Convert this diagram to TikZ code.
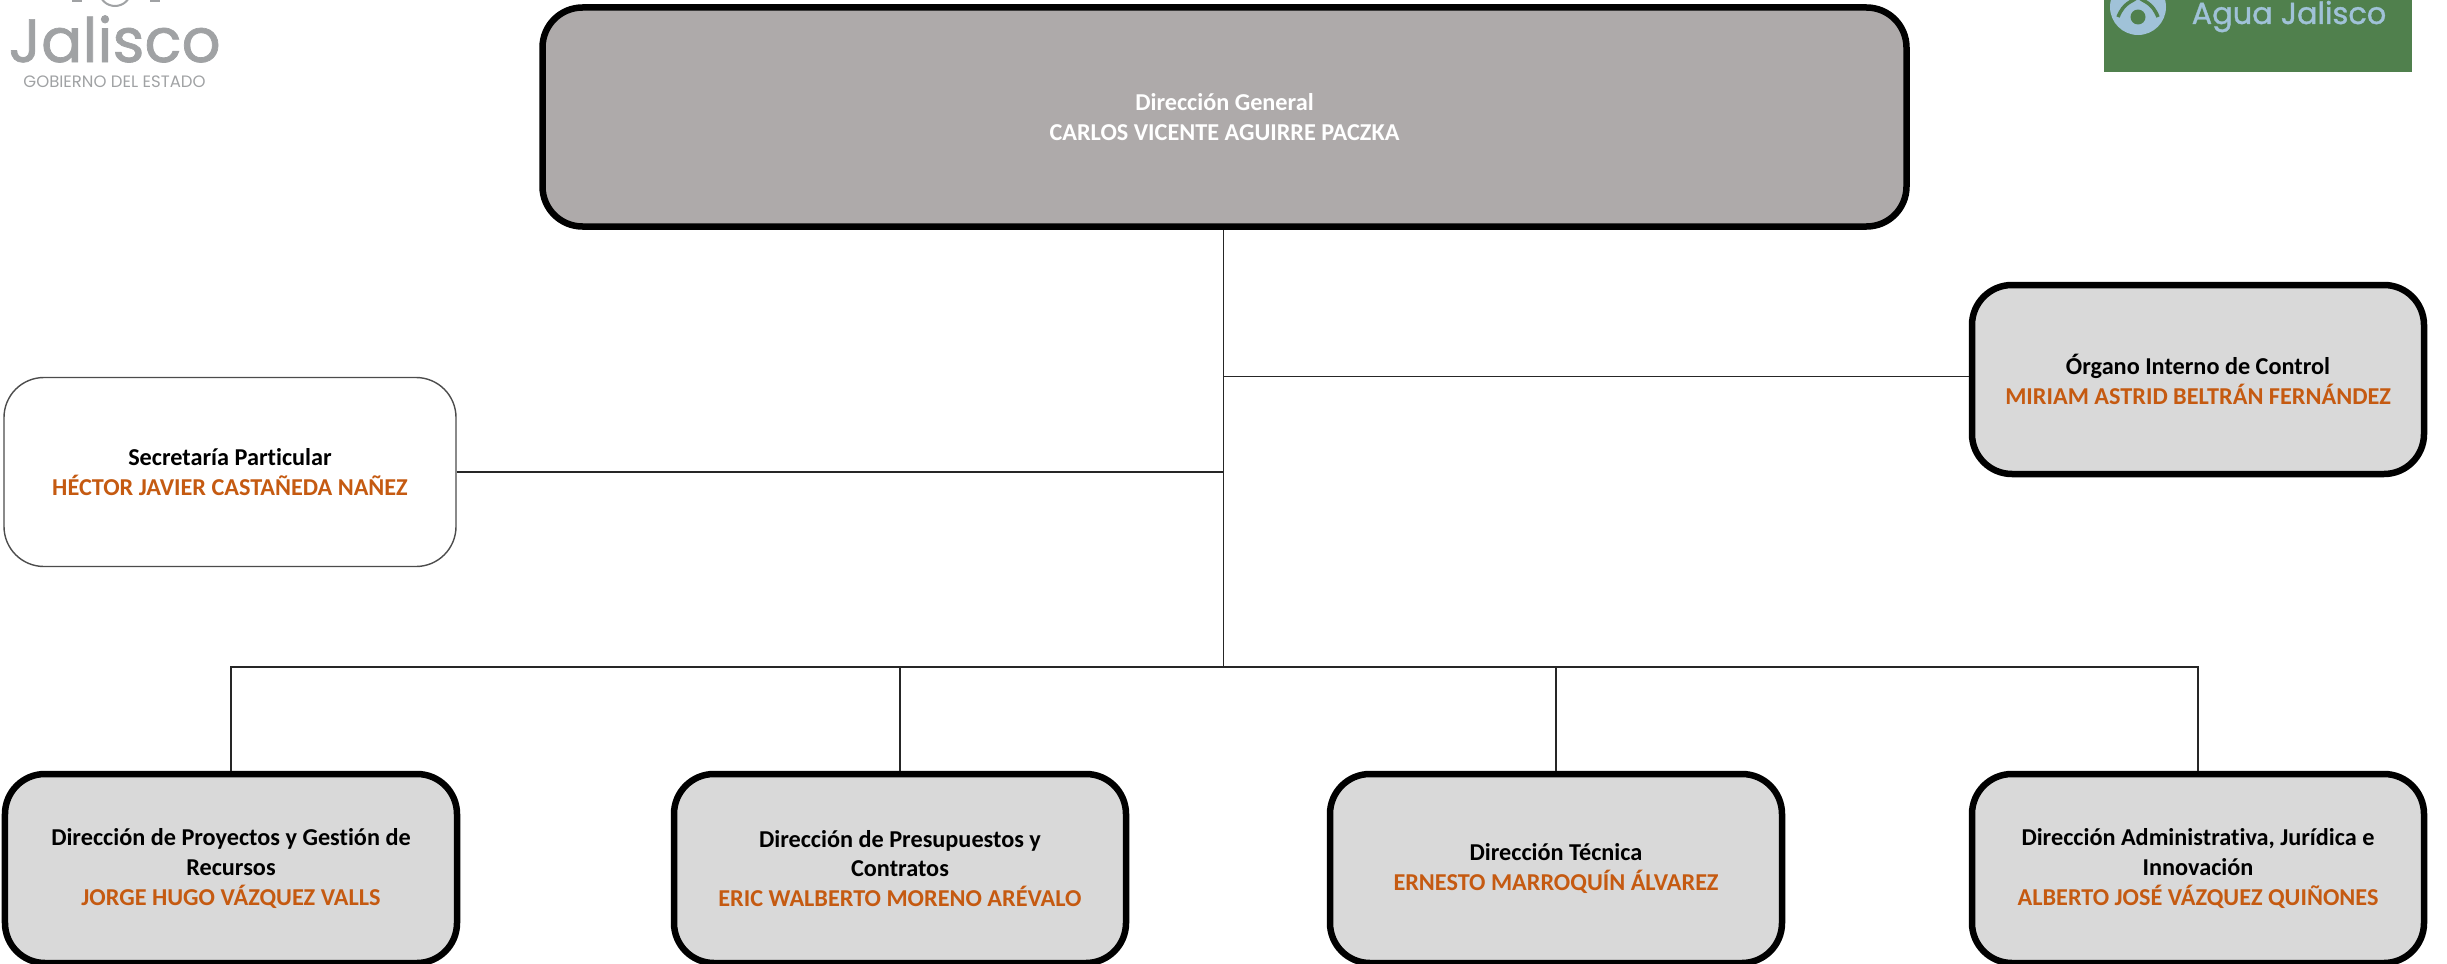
\documentclass[tikz,border=0pt]{standalone}
\usepackage{fontspec}
\setmainfont{Carlito}[Ligatures=CommonOff]
\newfontfamily\logofont[FakeBold=1.2]{Poppins}
\newfontfamily\logofino{Poppins}
\usetikzlibrary{positioning, calc}
\definecolor{nombre}{HTML}{C55A11}
\definecolor{cajagris}{HTML}{D9D9D9}
\definecolor{cajageneral}{HTML}{AEAAAA}
\definecolor{verdeagua}{HTML}{50804D}
\definecolor{azulagua}{HTML}{A0C2D8}
\definecolor{grislogo}{HTML}{A0A2A4}
\tikzset{
	puesto/.style={draw, rounded corners=0.4cm, line width=0.065cm, fill=cajagris, align=center, font=\fontsize{6.9pt}{8.4pt}\selectfont\bfseries, minimum width=4.52cm, minimum height=1.89cm, inner sep=0pt},
	enlace/.style={draw=black!85, line width=0.014cm},
}
\newcommand{\titular}[1]{\textcolor{nombre}{#1}}
\begin{document}
\begin{tikzpicture}
	\clip (0, 0) rectangle (24.47, -9.64);
	% logos
	\fill[verdeagua] (21.04, 0) rectangle (24.12, -0.72);
	\node[font=\logofont\fontsize{8.65pt}{10pt}\selectfont, text=azulagua, anchor=base west, inner sep=0pt] (agua) at (21.91, -0.24) {Agua Jalisco};
	\fill[azulagua] (21.38, -0.07) circle (0.28);
	\draw[verdeagua, line width=0.035cm] (21.18, -0.17) .. controls (21.24, -0.02) and (21.32, -0.02) .. (21.38, 0.03) .. controls (21.44, -0.02) and (21.52, -0.02) .. (21.58, -0.17);
	\fill[verdeagua] (21.38, -0.17) circle (0.075);
	\node[font=\logofont\fontsize{17.4pt}{20pt}\selectfont, text=grislogo, anchor=base west, inner sep=0pt] (jalisco) at (0.08, -0.62) {Jalisco};
	\node[font=\logofino\fontsize{4.7pt}{6pt}\selectfont, text=grislogo, anchor=center, inner sep=0pt] (gobierno) at (1.145, -0.82) {GOBIERNO DEL ESTADO};
	\draw[grislogo, line width=0.02cm] (1.15, 0.1) circle (0.16);
	\draw[grislogo, line width=0.02cm] (0.72, -0.01) -- (0.82, -0.01) (1.5, -0.01) -- (1.6, -0.01);
	% cajas
	\node[puesto, fill=cajageneral, minimum width=13.64cm, minimum height=2.19cm, text=white] (general) at (12.245, -1.17) {Dirección General\\CARLOS VICENTE AGUIRRE PACZKA};
	\node[puesto] (organo) at (21.98, -3.795) {Órgano Interno de Control\\\titular{MIRIAM ASTRID BELTRÁN FERNÁNDEZ}};
	\node[puesto, fill=white, line width=0.014cm, draw=black!70] (secretaria) at (2.30, -4.72) {Secretaría Particular\\\titular{HÉCTOR JAVIER CASTAÑEDA NAÑEZ}};
	\node[puesto] (proyectos) at (2.31, -8.685) {Dirección de Proyectos y Gestión de\\Recursos\\\titular{JORGE HUGO VÁZQUEZ VALLS}};
	\node[puesto] (presupuestos) at (9.00, -8.685) {Dirección de Presupuestos y\\Contratos\\\titular{ERIC WALBERTO MORENO ARÉVALO}};
	\node[puesto] (tecnica) at (15.56, -8.685) {Dirección Técnica\\\titular{ERNESTO MARROQUÍN ÁLVAREZ}};
	\node[puesto] (administrativa) at (21.98, -8.685) {Dirección Administrativa, Jurídica e\\Innovación\\\titular{ALBERTO JOSÉ VÁZQUEZ QUIÑONES}};
	% lineas
	\coordinate (cruce) at (12.235, -6.67);
	\draw[enlace] (general.south -| cruce) -- (cruce);
	\draw[enlace] ([yshift=0.03cm]organo.west) -- ([yshift=0.03cm]organo.west -| cruce);
	\draw[enlace] (secretaria.east) -- (secretaria.east -| cruce);
	\draw[enlace] (proyectos.north) |- (cruce);
	\draw[enlace] (administrativa.north) |- (cruce);
	\foreach \caja in {presupuestos, tecnica}
		\draw[enlace] (\caja.north) -- (\caja.north |- cruce);
\end{tikzpicture}
\end{document}
